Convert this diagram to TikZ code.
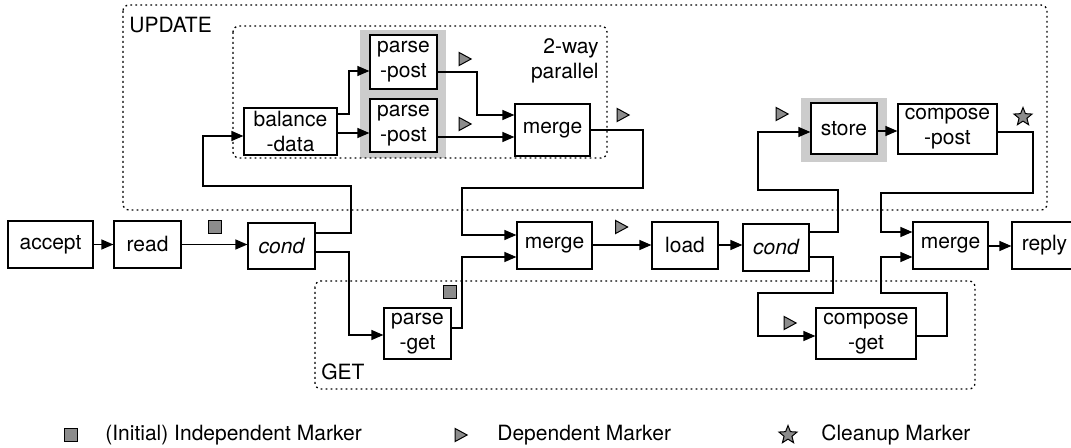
\documentclass[tikz,border=0pt]{standalone}
\usepackage{fontspec}
\setmainfont{TeX Gyre Heros}
\usetikzlibrary{arrows.meta,shapes.geometric,backgrounds}

\tikzset{
  box/.style={draw,fill=white,line width=.6pt,inner sep=0pt,align=center,minimum height=23.5pt,font=\fontsize{10.5}{12.5}\selectfont},
  tallbox/.style={box,minimum height=25.5pt},
  grp/.style={line width=.65pt,dash pattern=on .9pt off 1.6pt,rounded corners=3pt},
  halo/.style={fill=black!20},
  arr/.style={line width=.6pt,-{Triangle[length=6pt,width=5pt]}},
  indep/.style={draw,line width=.5pt,fill=black!45,minimum size=6.5pt,inner sep=0pt},
  dep/.style={isosceles triangle,isosceles triangle stretches,draw,line width=.5pt,fill=black!45,minimum height=6pt,minimum width=6.5pt,inner sep=0pt},
  cleanup/.style={star,star points=5,star point ratio=2.3,draw,line width=.5pt,fill=black!45,minimum size=9.5pt,inner sep=0pt},
  lbl/.style={font=\fontsize{10.5}{12.5}\selectfont,inner sep=0pt}
}

\begin{document}
\begin{tikzpicture}[x=.5pt,y=-.5pt]
\useasboundingbox (0,0) rectangle (1071,448);

% groups
\draw[grp] (123,5) rectangle (1047,210);
\draw[grp] (233,26) rectangle (607,158);
\draw[grp] (315,281) rectangle (975,389);
\node[lbl,anchor=west] (update) at (129,25) {UPDATE};
\node[lbl,anchor=west] (get) at (321,372) {GET};
\node[lbl,anchor=east,align=right] (par) at (599,60.5) {2-way\\parallel};

% main line
\node[box,minimum width=42.5pt] (accept) at (50.5,244.5) {accept};
\node[box,minimum width=33.5pt] (read) at (147.5,244.5) {read};
\node[box,minimum width=33.5pt,minimum height=23pt] (cond1) at (281.5,246) {\itshape cond};
\node[box,minimum width=37.5pt] (merge2) at (554.5,245.5) {merge};
\node[box,minimum width=33pt] (load) at (685,245.5) {load};
\node[box,minimum width=33pt] (cond2) at (776,247.5) {\itshape cond};
\node[box,minimum width=37.5pt] (merge3) at (950.5,245.5) {merge};
\node[box,minimum width=32.5pt] (reply) at (1044.5,245.5) {reply};

% update path
\node[box,minimum width=46.5pt] (balance) at (290.5,131.5) {balance\\-data};
\node[tallbox,minimum width=33.5pt,minimum height=27pt] (ppost1) at (403.5,62) {parse\\-post};
\node[tallbox,minimum width=33.5pt,minimum height=26.5pt] (ppost2) at (403.5,125.5) {parse\\-post};
\node[box,minimum width=37.5pt,minimum height=26pt] (merge1) at (552.5,130) {merge};
\node[tallbox,minimum width=33pt] (store) at (844,128.5) {store};
\node[tallbox,minimum width=49.5pt,minimum height=25pt] (cpost) at (947.5,129) {compose\\-post};

% get path
\node[tallbox,minimum width=33.5pt] (pget) at (417.5,333.5) {parse\\-get};
\node[tallbox,minimum width=50pt] (cget) at (866,333.5) {compose\\-get};

\begin{scope}[on background layer]
\fill[halo] ([shift={(-9,-4)}]ppost1.north west) rectangle ([shift={(8,4)}]ppost1.south east);
\fill[halo] ([shift={(-9,-4)}]ppost2.north west) rectangle ([shift={(8,5)}]ppost2.south east);
\fill[halo] ([shift={(-9,-4)}]store.north west) rectangle ([shift={(9,7)}]store.south east);
\end{scope}

% connectors
\draw[arr] (accept) -- (read);
\draw[arr] (read.east) -- (read.east -| cond1.west);
\draw[arr] (cond1.east |- 0,233) -| (351,186) -| (203,136) -- (balance.west |- 0,136);
\draw[arr] (balance.east |- 0,114) -| (349,71) -- (ppost1.west |- 0,71);
\draw[arr] (balance.east |- 0,133) -- (ppost2.west |- 0,133);
\draw[arr] (ppost1.east |- 0,72) -| (477,115) -- (merge1.west |- 0,115);
\draw[arr] (ppost2.east |- 0,137) -- (merge1.west |- 0,137);
\draw[arr] (merge1.east |- 0,130) -| (643,188) -| (462,235) -- (merge2.west |- 0,235);
\draw[arr] (cond1.east |- 0,252) -| (349,335) -- (pget.west |- 0,335);
\draw[arr] (pget.east |- 0,328) -| (462,257) -- (merge2.west |- 0,257);
\draw[arr] (merge2.east |- 0,245) -- (load.west |- 0,245);
\draw[arr] (load.east |- 0,245) -- (cond2.west |- 0,245);
\draw[arr] (cond2.east |- 0,232) -| (838,190) -| (758,132) -- (store.west |- 0,132);
\draw[arr] (store.east |- 0,131) -- (cpost.west |- 0,131);
\draw[arr] (cpost.east |- 0,132) -| (1033,193) -| (881,232) -- (merge3.west |- 0,232);
\draw[arr] (cond2.east |- 0,257) -| (833,293) -| (758,336) -- (cget.west |- 0,336);
\draw[arr] (cget.east |- 0,336) -| (947,293) -| (881,257) -- (merge3.west |- 0,257);
\draw[arr] (merge3.east |- 0,246) -- (reply.west |- 0,246);

% markers
\node[indep] (i1) at (214.5,227.5) {};
\node[indep] (i2) at (449.5,292.5) {};
\node[dep] (d1) at (463,59) {};
\node[dep] (d2) at (463,124) {};
\node[dep] (d3) at (621,115) {};
\node[dep] (d4) at (619.5,227) {};
\node[dep] (d5) at (780,114) {};
\node[dep] (d6) at (788,323) {};
\node[cleanup] (c1) at (1023,117) {};

% legend
\node[indep] (li) at (71,435) {};
\node[lbl,anchor=west] (lit) at (105,435) {(Initial) Independent Marker};
\node[dep] (ld) at (459,435) {};
\node[lbl,anchor=west] (ldt) at (497,435) {Dependent Marker};
\node[cleanup] (lc) at (788,435) {};
\node[lbl,anchor=west] (lct) at (821,435) {Cleanup Marker};
\end{tikzpicture}
\end{document}
